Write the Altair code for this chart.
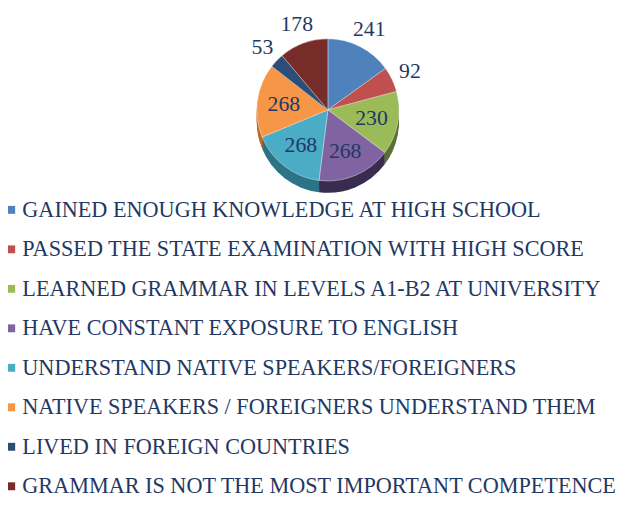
import altair as alt
import pandas as pd

categories = [
    "GAINED ENOUGH KNOWLEDGE AT HIGH SCHOOL",
    "PASSED THE STATE EXAMINATION WITH HIGH SCORE",
    "LEARNED GRAMMAR IN LEVELS A1-B2 AT UNIVERSITY",
    "HAVE CONSTANT EXPOSURE TO ENGLISH",
    "UNDERSTAND NATIVE SPEAKERS/FOREIGNERS",
    "NATIVE SPEAKERS / FOREIGNERS UNDERSTAND THEM",
    "LIVED IN FOREIGN COUNTRIES",
    "GRAMMAR IS NOT THE MOST IMPORTANT COMPETENCE",
]
values = [241, 92, 230, 268, 268, 268, 53, 178]

colors = ["#4F81BD", "#C0504D", "#9BBB59", "#8064A2", "#4BACC6", "#F79646", "#2C4D75", "#772C2A"]
side_colors = ["#2F4D73", "#7A302E", "#5C7035", "#3A2C50", "#2C7388", "#B86A2E", "#1A2E46", "#4A1A19"]
outside = [categories[0], categories[1], categories[6], categories[7]]

df = pd.DataFrame({"category": categories, "value": values, "idx": list(range(len(values)))})

CX, CY, R = 324, 100, 72
TXT = "#1F3864"
FONT = "Liberation Serif"

base = alt.Chart(df).encode(
    theta=alt.Theta("value:Q", stack=True),
    order=alt.Order("idx:Q"),
)

layers = []
for d in [12, 10, 8, 6, 4, 2]:
    layers.append(
        base.mark_arc(radius=R, x=CX, y=CY, yOffset=d).encode(
            color=alt.Color("category:N", scale=alt.Scale(domain=categories, range=side_colors), legend=None)
        )
    )

top = base.mark_arc(radius=R, x=CX, y=CY, stroke="white", strokeWidth=0.4).encode(
    color=alt.Color(
        "category:N",
        scale=alt.Scale(domain=categories, range=colors),
        legend=alt.Legend(
            title=None,
            orient="none",
            legendX=-8,
            legendY=190,
            padding=0,
            labelFont=FONT,
            labelFontSize=22.5,
            labelColor=TXT,
            symbolType="square",
            symbolSize=64,
            symbolStrokeWidth=0,
            symbolOpacity=1,
            rowPadding=17,
            labelLimit=800,
            labelOffset=0,
        ),
    )
)
layers.append(top)

is_out = alt.FieldOneOfPredicate(field="category", oneOf=outside)
inner_text = base.mark_text(radius=45, x=CX, y=CY, font=FONT, fontSize=22, color=TXT).encode(
    text=alt.condition(is_out, alt.value(""), alt.Text("value:Q"))
)
outer_text = base.mark_text(radius=R + 20, x=CX, y=CY, font=FONT, fontSize=22, color=TXT).encode(
    text=alt.condition(is_out, alt.Text("value:Q"), alt.value(""))
)
layers += [inner_text, outer_text]

chart = (
    alt.layer(*layers)
    .resolve_scale(color="independent")
    .properties(width=626, height=498, autosize=alt.AutoSizeParams(type="none"), padding=0)
    .configure(font=FONT)
    .configure_view(stroke=None)
)

chart.save("out.html", embed_options={"renderer": "svg", "actions": False})
